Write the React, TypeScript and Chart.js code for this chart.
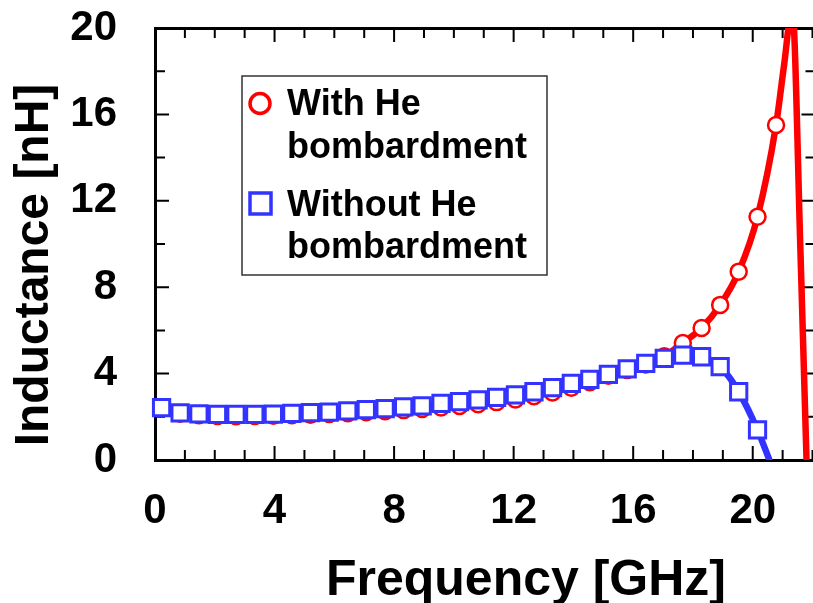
import { useEffect, useRef } from "react";
import { Chart, registerables } from "chart.js";

Chart.register(...registerables);

// ---- data ----
const frequencies = [
  0.22, 0.84, 1.47, 2.09, 2.71, 3.34, 3.96, 4.58, 5.2, 5.83, 6.45, 7.07, 7.7, 8.32,
  8.94, 9.57, 10.19, 10.81, 11.43, 12.06, 12.68, 13.3, 13.93, 14.55, 15.17, 15.8,
  16.42, 17.04, 17.66, 18.29, 18.91, 19.53, 20.16, 20.78,
];
const withHe = [
  2.44, 2.14, 2.07, 2.04, 2.03, 2.04, 2.05, 2.07, 2.1, 2.13, 2.17, 2.21, 2.26, 2.31,
  2.36, 2.43, 2.5, 2.58, 2.68, 2.8, 2.95, 3.13, 3.35, 3.6, 3.9, 4.17, 4.42, 4.8,
  5.42, 6.11, 7.18, 8.72, 11.26, 15.51,
];
const withoutHe = [
  2.43, 2.18, 2.13, 2.11, 2.11, 2.11, 2.12, 2.16, 2.19, 2.22, 2.27, 2.33, 2.38, 2.46,
  2.51, 2.62, 2.7, 2.78, 2.9, 3.01, 3.16, 3.35, 3.55, 3.73, 3.96, 4.22, 4.47, 4.71,
  4.86, 4.78, 4.32, 3.16, 1.39,
];
// line-only continuation beyond the last markers
const withHeTailFreq = [21.05, 21.32, 21.6, 21.8, 22.0];
const withHeTailValues = [18.3, 20.9, 9.5, 0, -11.0];
const withoutHeTailFreq = [20.75];
const withoutHeTailValues = [-0.7];

const xTickValues = [0, 4, 8, 12, 16, 20];
const yTickValues = [0, 4, 8, 12, 16, 20];
const legendWith = ["With He", "bombardment"];
const legendWithout = ["Without He", "bombardment"];
const xTitle = "Frequency [GHz]";
const yTitle = "Inductance [nH]";

const RED = "#ff0000";
const BLUE = "#3333ff";
const FAMILY = "'Liberation Sans', Arial, Helvetica, sans-serif";

const tickMarks = {
  id: "tickMarks",
  beforeDatasetsDraw(chart: any) {
    const { ctx, chartArea } = chart;
    const { left, right, top, bottom } = chartArea;
    const xs = chart.scales.x;
    const ys = chart.scales.y;
    ctx.save();
    ctx.strokeStyle = "#000";
    ctx.lineWidth = 2;
    ctx.beginPath();
    for (let v = 1; v <= 22; v += 1) {
      const px = xs.getPixelForValue(v);
      const len = v % 4 === 0 ? 14 : 10;
      ctx.moveTo(px, bottom);
      ctx.lineTo(px, bottom - len);
      ctx.moveTo(px, top);
      ctx.lineTo(px, top + len);
    }
    for (let v = 2; v < 20; v += 2) {
      const py = ys.getPixelForValue(v);
      const len = v % 4 === 0 ? 14 : 10;
      ctx.moveTo(left, py);
      ctx.lineTo(left + len, py);
      ctx.moveTo(right, py);
      ctx.lineTo(right - len, py);
    }
    ctx.stroke();
    ctx.restore();
  },
};

const annotations = {
  id: "annotations",
  afterDraw(chart: any) {
    const { ctx } = chart;
    ctx.save();
    ctx.fillStyle = "#000";
    // x title
    ctx.font = `bold 50px ${FAMILY}`;
    ctx.textAlign = "center";
    ctx.textBaseline = "alphabetic";
    ctx.fillText(xTitle, 526, 595);
    // y title
    ctx.save();
    ctx.translate(48, 265);
    ctx.rotate(-Math.PI / 2);
    ctx.font = `bold 48px ${FAMILY}`;
    ctx.fillText(yTitle, 0, 0);
    ctx.restore();

    // legend
    const bx = 242, by = 76, bw = 305, bh = 199;
    ctx.fillStyle = "#fff";
    ctx.fillRect(bx, by, bw, bh);
    ctx.strokeStyle = "#333";
    ctx.lineWidth = 1.5;
    ctx.strokeRect(bx, by, bw, bh);

    ctx.lineWidth = 3.5;
    ctx.strokeStyle = RED;
    ctx.beginPath();
    ctx.arc(260, 103.5, 10, 0, Math.PI * 2);
    ctx.stroke();
    ctx.strokeStyle = BLUE;
    ctx.strokeRect(250, 193, 21, 21);

    ctx.fillStyle = "#000";
    ctx.font = `bold 36px ${FAMILY}`;
    ctx.textAlign = "left";
    ctx.fillText(legendWith[0], 287, 115);
    ctx.fillText(legendWith[1], 287, 158);
    ctx.fillText(legendWithout[0], 287, 216);
    ctx.fillText(legendWithout[1], 287, 258);
    ctx.restore();
  },
};

const noPad = (s: any) => {
  s.paddingTop = 0;
  s.paddingBottom = 0;
  s.paddingLeft = 0;
  s.paddingRight = 0;
};

export default function App() {
  const canvasRef = useRef<HTMLCanvasElement | null>(null);

  useEffect(() => {
    const canvas = canvasRef.current;
    if (!canvas) return;

    const redData = [
      ...frequencies.map((f, i) => ({ x: f, y: withHe[i] })),
      ...withHeTailFreq.map((f, i) => ({ x: f, y: withHeTailValues[i] })),
    ];
    const blueData = [
      ...frequencies.slice(0, withoutHe.length).map((f, i) => ({ x: f, y: withoutHe[i] })),
      ...withoutHeTailFreq.map((f, i) => ({ x: f, y: withoutHeTailValues[i] })),
    ];
    const clip = { left: 14, top: 0, right: 0, bottom: 0 };
    const tickFont = { family: FAMILY, weight: "bold" as const, size: 42 };

    const chart = new Chart(canvas, {
      type: "line",
      data: {
        datasets: [
          {
            label: "With He bombardment",
            data: redData,
            xAxisID: "x",
            yAxisID: "y",
            borderColor: RED,
            borderWidth: 6.5,
            cubicInterpolationMode: "monotone",
            pointStyle: "circle",
            pointRadius: (c: any) => (c.dataIndex < withHe.length ? 8 : 0),
            pointBorderWidth: 2.5,
            pointBackgroundColor: "#fff",
            pointBorderColor: RED,
            order: 2,
            clip,
          } as any,
          {
            label: "Without He bombardment",
            data: blueData,
            xAxisID: "x",
            yAxisID: "y",
            borderColor: BLUE,
            borderWidth: 6.5,
            cubicInterpolationMode: "monotone",
            pointStyle: "rect",
            pointRadius: (c: any) => (c.dataIndex < withoutHe.length ? 11.5 : 0),
            pointBorderWidth: 3,
            pointBackgroundColor: "#fff",
            pointBorderColor: BLUE,
            order: 1,
            clip,
          } as any,
        ],
      },
      options: {
        responsive: false,
        animation: false,
        events: [],
        layout: { padding: 0 },
        plugins: { legend: { display: false }, tooltip: { enabled: false } },
        scales: {
          x: {
            type: "linear",
            position: "bottom",
            min: 0,
            max: 22.1,
            afterBuildTicks: (s: any) => {
              s.ticks = xTickValues.map((v) => ({ value: v }));
            },
            ticks: { font: tickFont, color: "#000", padding: 26, maxRotation: 0, autoSkip: false },
            grid: { display: false, drawTicks: false },
            border: { display: true, color: "#000", width: 3 },
            afterFit: (s: any) => {
              s.height = 143;
              noPad(s);
            },
          },
          xTop: {
            type: "linear",
            position: "top",
            min: 0,
            max: 22.1,
            ticks: { display: false },
            grid: { display: false, drawTicks: false },
            border: { display: true, color: "#000", width: 3 },
            afterFit: (s: any) => {
              s.height = 28;
              noPad(s);
            },
          },
          y: {
            type: "linear",
            position: "left",
            min: 0,
            max: 20,
            afterBuildTicks: (s: any) => {
              s.ticks = yTickValues.map((v) => ({ value: v }));
            },
            ticks: { font: tickFont, color: "#000", padding: 38 },
            grid: { display: false, drawTicks: false },
            border: { display: true, color: "#000", width: 3 },
            afterFit: (s: any) => {
              s.width = 155;
              noPad(s);
            },
          },
          yRight: {
            type: "linear",
            position: "right",
            min: 0,
            max: 20,
            ticks: { display: false },
            grid: { display: false, drawTicks: false },
            border: { display: true, color: "#000", width: 3 },
            afterFit: (s: any) => {
              s.width = 12;
              noPad(s);
            },
          },
        } as any,
      },
      plugins: [tickMarks, annotations],
    });

    return () => chart.destroy();
  }, []);

  return (
    <div
      style={{
        position: "fixed",
        left: 0,
        top: 0,
        width: 813,
        height: 603,
        overflow: "hidden",
        background: "#fff",
      }}
    >
      <canvas ref={canvasRef} width={830} height={603} style={{ display: "block" }} />
    </div>
  );
}
